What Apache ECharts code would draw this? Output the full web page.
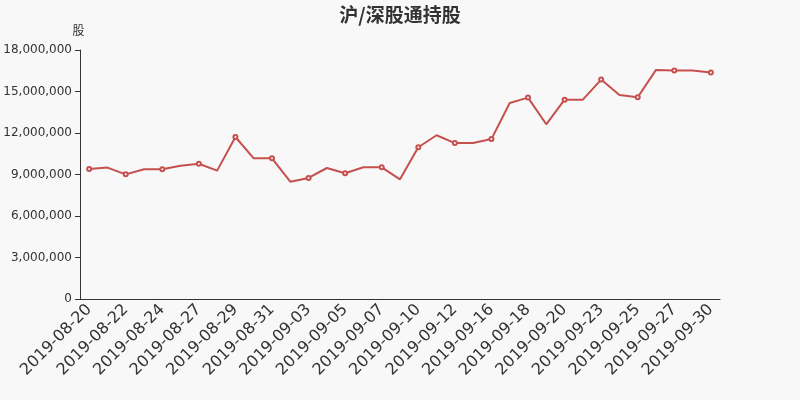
<!DOCTYPE html>
<html><head><meta charset="utf-8">
<script src="https://cdn.jsdelivr.net/npm/echarts@6/dist/echarts.min.js"></script>
<style>html,body{margin:0;padding:0;background:#f8f8f8}#c{width:800px;height:400px}</style>
</head><body><div id="c"></div>
<script>
const categories = ['2019-08-20','2019-08-21','2019-08-22','2019-08-23','2019-08-24','2019-08-26','2019-08-27','2019-08-28','2019-08-29','2019-08-30','2019-08-31','2019-09-02','2019-09-03','2019-09-04','2019-09-05','2019-09-06','2019-09-07','2019-09-09','2019-09-10','2019-09-11','2019-09-12','2019-09-13','2019-09-16','2019-09-17','2019-09-18','2019-09-19','2019-09-20','2019-09-21','2019-09-23','2019-09-24','2019-09-25','2019-09-26','2019-09-27','2019-09-28','2019-09-30'];
const holdings = [9400000,9500000,9010000,9380000,9380000,9640000,9780000,9280000,11710000,10170000,10170000,8480000,8750000,9470000,9090000,9520000,9520000,8650000,10970000,11840000,11270000,11270000,11560000,14170000,14560000,12630000,14410000,14410000,15860000,14750000,14580000,16560000,16510000,16510000,16370000];
const yTicks = [0,3000000,6000000,9000000,12000000,15000000,18000000];
const chart = echarts.init(document.getElementById('c'));
chart.setOption({
  backgroundColor:'#f8f8f8',
  animation:false,
  title:{text:'沪/深股通持股',left:'center',top:0,textStyle:{fontSize:19,fontWeight:'bold',color:'#333',fontFamily:'Noto Sans CJK SC'}},
  grid:{left:80,right:80,top:50,bottom:101},
  xAxis:{type:'category',data:categories,boundaryGap:true,
    axisLine:{lineStyle:{color:'#333'}},
    axisTick:{interval:1,lineStyle:{color:'#333'}},
    axisLabel:{interval:1,rotate:45,fontSize:16,color:'#333',fontFamily:'DejaVu Sans',margin:8}},
  yAxis:{type:'value',name:'股',min:yTicks[0],max:yTicks[yTicks.length-1],interval:3000000,
    nameGap:14,
    nameTextStyle:{color:'#333',fontSize:12,fontFamily:'Noto Sans CJK SC',align:'center',padding:[0,3,0,0]},
    splitLine:{show:false},
    axisLine:{show:true,lineStyle:{color:'#333'}},
    axisTick:{show:true,lineStyle:{color:'#333'}},
    axisLabel:{color:'#333',fontSize:12,fontFamily:'DejaVu Sans',formatter:v=>v.toLocaleString('en-US')}},
  series:[{type:'line',data:holdings,symbol:'emptyCircle',symbolSize:4,showAllSymbol:false,
    lineStyle:{width:2,color:'#c5504e'},itemStyle:{color:'#c5504e'}}]
});
</script></body></html>
